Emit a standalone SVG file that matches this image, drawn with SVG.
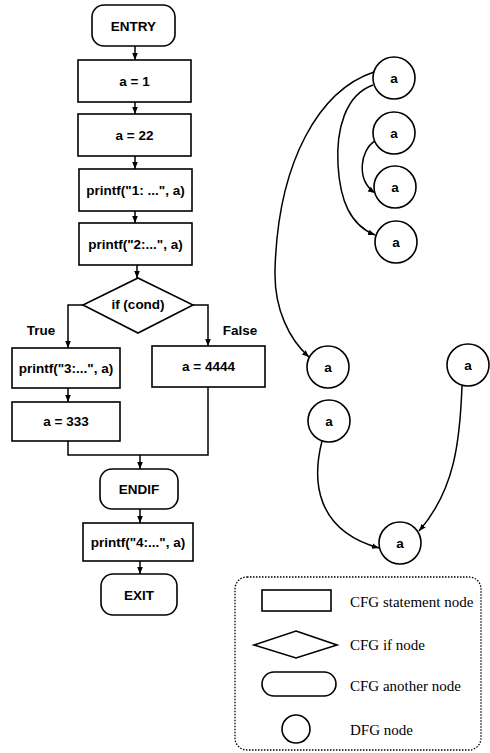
<svg xmlns="http://www.w3.org/2000/svg" width="490" height="753" viewBox="0 0 490 753">
<defs>
<marker id="ah" viewBox="0 0 10 10" refX="10" refY="5" markerWidth="7" markerHeight="7" orient="auto" markerUnits="userSpaceOnUse">
<path d="M0,1 L10,5 L0,9 z" fill="#000"/>
</marker>
</defs>
<style>
.n{fill:#fff;stroke:#000;stroke-width:1.6}
.t{font-family:"Liberation Sans",Arial,sans-serif;font-weight:bold;font-size:13.5px;fill:#000;text-anchor:middle;dominant-baseline:central}
.e{fill:none;stroke:#000;stroke-width:1.5}
.a{fill:none;stroke:#000;stroke-width:1.5;marker-end:url(#ah)}
.lg{font-family:"Liberation Serif","Times New Roman",serif;font-size:15px;fill:#000;dominant-baseline:central}
</style>
<rect width="490" height="753" fill="#fff"/>

<g id="connectors">
<line class="a" x1="135" y1="46" x2="135" y2="60"/>
<line class="a" x1="135" y1="102" x2="135" y2="114"/>
<line class="a" x1="135" y1="156" x2="135" y2="169"/>
<line class="a" x1="135" y1="211" x2="135" y2="223"/>
<line class="a" x1="137" y1="265" x2="137" y2="278"/>
<polyline class="a" points="83,305 68,305 68,348"/>
<polyline class="a" points="193,305 208,305 208,346"/>
<line class="a" x1="68" y1="388" x2="68" y2="402"/>
<polyline class="e" points="68,441 68,455 208,455 208,387"/>
<line class="a" x1="140" y1="455" x2="140" y2="469"/>
<line class="a" x1="140" y1="509" x2="140" y2="523"/>
<line class="a" x1="140" y1="561" x2="140" y2="574"/>
<path class="a" d="M374,72 C320,90 278,160 275,270 C274,310 290,340 309,357"/>
<path class="a" d="M373,85 C345,95 336,130 338,165 C340,200 350,225 375,235"/>
<path class="a" d="M375,141 C360,150 356,180 375,193"/>
<path class="a" d="M322,441 C312,480 315,530 379,548"/>
<path class="a" d="M462,386 C460,440 455,490 419,531"/>
</g>

<g id="entry"><rect class="n" x="92" y="5" width="83" height="41" rx="12"/><text class="t" x="133.5" y="26">ENTRY</text></g>
<g id="s1"><rect class="n" x="78" y="60" width="113" height="42"/><text class="t" x="134.5" y="81">a  = 1</text></g>
<g id="s2"><rect class="n" x="78" y="114" width="113" height="42"/><text class="t" x="134.5" y="135">a = 22</text></g>
<g id="s3"><rect class="n" x="79" y="169" width="113" height="42"/><text class="t" x="135.5" y="190">printf("1: ...", a)</text></g>
<g id="s4"><rect class="n" x="79" y="223" width="113" height="42"/><text class="t" x="135.5" y="244">printf("2:...", a)</text></g>
<g id="if"><polygon class="n" points="138,278 193,305 138,333 83,305"/><text class="t" x="138" y="304">if (cond)</text></g>
<text class="t" x="41" y="330">True</text>
<text class="t" x="240" y="330">False</text>
<g id="s5"><rect class="n" x="12" y="348" width="108" height="40"/><text class="t" x="66" y="368">printf("3:...", a)</text></g>
<g id="s6"><rect class="n" x="152" y="346" width="113" height="41"/><text class="t" x="208.5" y="366">a = 4444</text></g>
<g id="s7"><rect class="n" x="12" y="402" width="108" height="39"/><text class="t" x="66" y="421">a = 333</text></g>
<g id="endif"><rect class="n" x="100" y="469" width="78" height="40" rx="12"/><text class="t" x="139" y="489">ENDIF</text></g>
<g id="s8"><rect class="n" x="83" y="523" width="110" height="38"/><text class="t" x="138" y="542">printf("4:...", a)</text></g>
<g id="exit"><rect class="n" x="101" y="574" width="76" height="41" rx="12"/><text class="t" x="139" y="595">EXIT</text></g>

<g id="d1"><circle class="n" cx="394" cy="78" r="21"/><text class="t" x="394" y="78">a</text></g>
<g id="d2"><circle class="n" cx="394" cy="133" r="21"/><text class="t" x="394" y="133">a</text></g>
<g id="d3"><circle class="n" cx="395" cy="187" r="21"/><text class="t" x="395" y="187">a</text></g>
<g id="d4"><circle class="n" cx="396" cy="242" r="21"/><text class="t" x="396" y="242">a</text></g>
<g id="d5"><circle class="n" cx="328" cy="367" r="21"/><text class="t" x="328" y="367">a</text></g>
<g id="d6"><circle class="n" cx="468" cy="365" r="21"/><text class="t" x="468" y="365">a</text></g>
<g id="d7"><circle class="n" cx="329" cy="421" r="21"/><text class="t" x="329" y="421">a</text></g>
<g id="d8"><circle class="n" cx="400" cy="543" r="21"/><text class="t" x="400" y="543">a</text></g>

<g id="legend">
<rect x="235" y="577" width="246" height="173" rx="12" fill="none" stroke="#000" stroke-width="1.3" stroke-dasharray="1.5 1.5"/>
<rect class="n" x="262" y="590" width="69" height="21"/>
<text class="lg" x="350" y="602">CFG statement node</text>
<polygon class="n" points="296,631 337,645 296,658 254,645"/>
<text class="lg" x="350" y="645">CFG if node</text>
<rect class="n" x="262" y="672" width="74" height="24" rx="12"/>
<text class="lg" x="350" y="686">CFG another node</text>
<circle class="n" cx="296" cy="729" r="14"/>
<text class="lg" x="350" y="730">DFG node</text>
</g>
</svg>
